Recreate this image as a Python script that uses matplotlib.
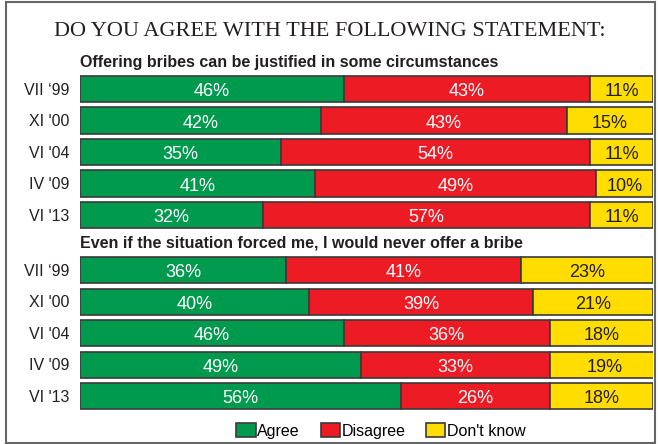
import matplotlib.pyplot as plt
from matplotlib.patches import Patch, Rectangle

# data
periods = ["VII \u201899", "XI '00", "VI '04", "IV '09", "VI '13"]
agree_1 = [46, 42, 35, 41, 32]
disagree_1 = [43, 43, 54, 49, 57]
dontknow_1 = [11, 15, 11, 10, 11]
agree_2 = [36, 40, 46, 49, 56]
disagree_2 = [41, 39, 36, 33, 26]
dontknow_2 = [23, 21, 18, 19, 18]

title = "DO YOU AGREE WITH THE FOLLOWING STATEMENT:"
sub_1 = "Offering bribes can be justified in some circumstances"
sub_2 = "Even if the situation forced me, I would never offer a bribe"
legend_labels = ["Agree", "Disagree", "Don't know"]

colors = ["#009A4E", "#ED1C24", "#FFDD00"]
text_colors = ["white", "white", "#231F20"]
edge = "#3a3a3a"

plt.rcParams["font.family"] = ["Liberation Sans", "DejaVu Sans"]

W, H = 658, 444
fig = plt.figure(figsize=(W / 100, H / 100), dpi=100)
ax = fig.add_axes([80 / W, 0, 573 / W, 1])

row = 31.5
first = 89
ax.set_xlim(0, 100)
ax.set_ylim((H - first) / row, -first / row)
ax.axis("off")

groups = [
    (0, sub_1, [agree_1, disagree_1, dontknow_1]),
    (5.75, sub_2, [agree_2, disagree_2, dontknow_2]),
]

for start, sub, series in groups:
    ys = [start + i for i in range(len(periods))]
    left = [0] * len(periods)
    for vals, c, tc in zip(series, colors, text_colors):
        ax.barh(ys, vals, left=left, height=0.83, color=c, edgecolor=edge, linewidth=1.2)
        for y, l, v in zip(ys, left, vals):
            ax.text(l + v / 2, y + 0.08, f"{v}%", ha="center", va="center",
                    color=tc, fontsize=13)
        left = [a + b for a, b in zip(left, vals)]
    for y, p in zip(ys, periods):
        ax.text(-1.8, y + 0.04, p, ha="right", va="center", fontsize=11.5, color="#231F20")
    ax.text(0, start - 0.85, sub, ha="left", va="center", fontsize=11.5,
            fontweight="bold", color="#231F20")

fig.text(330 / W, 1 - 32 / H, title, ha="center", va="center",
         family="Liberation Serif", fontsize=16, color="#231F20")

handles = [Patch(facecolor=c, edgecolor=edge, linewidth=1.2) for c in colors]
fig.legend(handles, legend_labels, loc="center", bbox_to_anchor=(381 / W, 1 - 431 / H),
           ncol=3, frameon=False, fontsize=11.5, handlelength=1.2, handleheight=0.9,
           handletextpad=0.1, columnspacing=1.3)

fig.patches.append(Rectangle((6 / W, 1 / H), 649 / W, 441 / H, transform=fig.transFigure,
                             fill=False, edgecolor="#666666", linewidth=1.5))

fig.savefig("out.png", dpi=100)
